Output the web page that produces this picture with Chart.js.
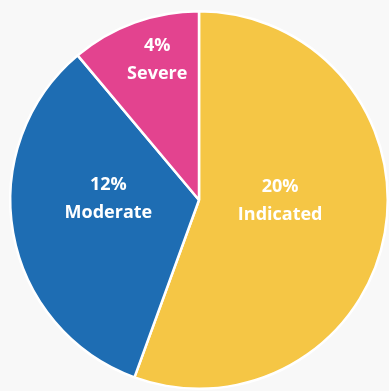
<!DOCTYPE html>
<html>
<head>
<meta charset="utf-8">
<script src="https://cdn.jsdelivr.net/npm/chart.js@4/dist/chart.umd.min.js"></script>
<style>
    html, body { margin: 0; padding: 0; background: #f8f8f8; }
    .wrap { width: 389px; height: 391px; }
</style>
</head>
<body>
<div class="wrap"><canvas id="severityChart" width="389" height="391"></canvas></div>
<script>
const categories = ["Indicated", "Moderate", "Severe"];
const values = [20, 12, 4];
const colours = ["#f5c645", "#1e6db3", "#e3438f"];

// where each label sits: angle in degrees clockwise from top, distance as a share of the radius
const labelSpots = [
    { angle: 90.7, dist: 0.43 },
    { angle: 270.6, dist: 0.48 },
    { angle: 343.4, dist: 0.775 }
];

const sliceLabels = {
    id: "sliceLabels",
    afterDatasetsDraw(chart) {
        const ctx = chart.ctx;
        const arcs = chart.getDatasetMeta(0).data;
        ctx.save();
        ctx.fillStyle = "#ffffff";
        ctx.font = "bold 18px 'Open Sans'";
        ctx.textAlign = "center";
        ctx.textBaseline = "middle";
        arcs.forEach((arc, i) => {
            const spot = labelSpots[i];
            const a = spot.angle * Math.PI / 180;
            const r = arc.outerRadius * spot.dist;
            const x = arc.x + Math.sin(a) * r;
            const y = arc.y - Math.cos(a) * r;
            ctx.fillText(values[i] + "%", x, y - 14);
            ctx.fillText(categories[i], x, y + 14);
        });
        ctx.restore();
    }
};

new Chart(document.getElementById("severityChart"), {
    type: "pie",
    data: {
        labels: categories,
        datasets: [{
            data: values,
            backgroundColor: colours,
            borderColor: "#ffffff",
            borderWidth: 2.5
        }]
    },
    options: {
        responsive: false,
        animation: false,
        layout: { padding: { left: 9, right: 0, top: 10, bottom: 1 } },
        plugins: {
            legend: { display: false },
            tooltip: { enabled: false }
        }
    },
    plugins: [sliceLabels]
});
</script>
</body>
</html>
